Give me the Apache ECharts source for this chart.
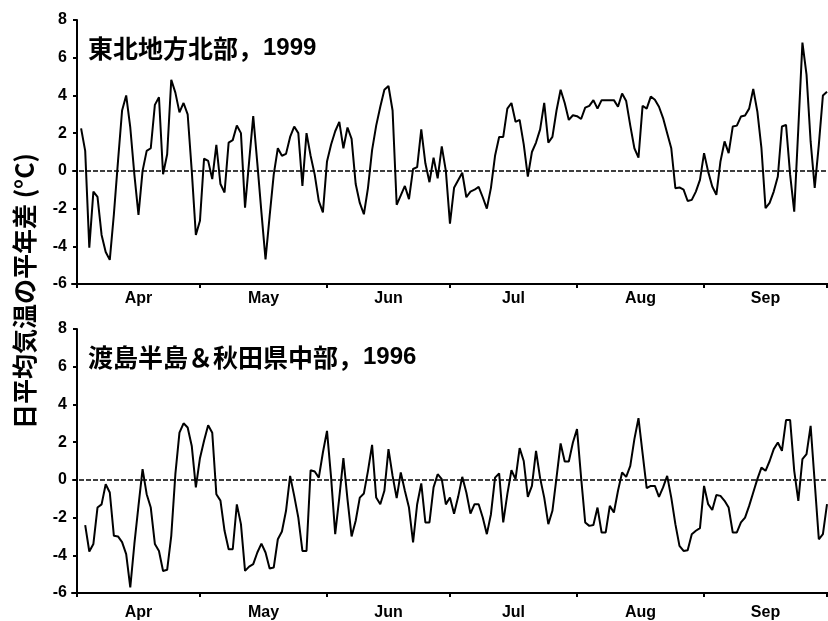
<!DOCTYPE html>
<html>
<head>
<meta charset="utf-8">
<script src="https://cdn.jsdelivr.net/npm/echarts@6/dist/echarts.min.js"></script>
<style>
  html, body { margin: 0; padding: 0; background: #fff; }
  #chart { width: 828px; height: 621px; }
</style>
</head>
<body>
<div id="chart"></div>
<script>
// Month names shown under each panel and the first day of each month
// (days counted from 1 April; 183 = 1 October).
const monthNames = ['Apr', 'May', 'Jun', 'Jul', 'Aug', 'Sep'];
const monthStarts = [0, 30, 61, 91, 122, 153, 183];

// Panel titles and the shared y-axis caption.
const panelTitles = ['東北地方北部，', '渡島半島＆秋田県中部，'];
const panelYears = ['1999', '1996'];
const yCaption = '日平均気温の平年差 (°C)';

// Daily mean temperature anomaly (°C), northern Tohoku 1999, from day 1.
const north1999Start = 1;
const north1999 = [
  2.25, 1.06, -4.07, -1.1, -1.38, -3.4, -4.3, -4.72, -2.3, 0.5,
  3.2, 4.0, 2.3, -0.2, -2.33, 0.0, 1.06, 1.2, 3.5, 3.9,
  -0.18, 0.88, 4.83, 4.15, 3.1, 3.6, 3.0, 0.0, -3.4, -2.65,
  0.65, 0.53, -0.44, 1.38, -0.7, -1.15, 1.5, 1.63, 2.4, 2.0,
  -1.95, 0.5, 2.9, 0.4, -2.2, -4.7, -2.4, -0.2, 1.2, 0.8,
  0.9, 1.8, 2.35, 2.0, -0.8, 2.0, 0.8, -0.2, -1.6, -2.2,
  0.5, 1.4, 2.1, 2.6, 1.2, 2.3, 1.7, -0.7, -1.7, -2.3,
  -0.9, 1.1, 2.4, 3.4, 4.3, 4.5, 3.2, -1.8, -1.3, -0.8,
  -1.5, 0.1, 0.2, 2.2, 0.4, -0.6, 0.7, -0.4, 1.3, 0.0,
  -2.8, -0.9, -0.5, -0.1, -1.4, -1.1, -1.0, -0.85, -1.4, -2.0,
  -0.9, 0.8, 1.8, 1.8, 3.3, 3.6, 2.6, 2.7, 1.4, -0.3,
  1.0, 1.5, 2.2, 3.6, 1.5, 1.8, 3.2, 4.3, 3.6, 2.7,
  2.95, 2.9, 2.75, 3.35, 3.45, 3.75, 3.3, 3.75, 3.75, 3.75,
  3.75, 3.4, 4.1, 3.7, 2.4, 1.2, 0.7, 3.45, 3.3, 3.94,
  3.77, 3.4, 2.8, 2.0, 1.2, -0.92, -0.88, -1.0, -1.6, -1.54,
  -1.1, -0.48, 0.94, -0.04, -0.83, -1.27, 0.5, 1.56, 0.94, 2.35,
  2.4, 2.88, 2.94, 3.3, 4.35, 3.15, 1.2, -1.98, -1.7, -1.1,
  -0.3, 2.35, 2.44, -0.2, -2.16, 2.26, 6.8, 5.1, 1.56, -0.9,
  1.38, 4.0, 4.2
];

// Daily mean temperature anomaly (°C), Oshima Peninsula & central Akita 1996, from day 2.
const oshima1996Start = 2;
const oshima1996 = [
  -2.4, -3.8, -3.4, -1.47, -1.3, -0.23, -0.67, -2.97, -3.0, -3.3,
  -3.94, -5.7, -3.4, -1.38, 0.57, -0.76, -1.47, -3.4, -3.77, -4.83,
  -4.77, -2.97, 0.3, 2.5, 3.0, 2.78, 1.8, -0.4, 1.15, 2.07,
  2.9, 2.5, -0.76, -1.1, -2.7, -3.68, -3.68, -1.3, -2.35, -4.83,
  -4.6, -4.47, -3.85, -3.38, -3.85, -4.7, -4.65, -3.15, -2.74, -1.64,
  0.21, -0.85, -2.0, -3.77, -3.77, 0.51, 0.44, 0.12, 1.45, 2.6,
  0.12, -2.88, -0.94, 1.15, -1.03, -3.0, -2.17, -0.94, -0.72, 0.48,
  1.86, -0.94, -1.29, -0.58, 1.63, 0.21, -0.97, 0.39, -0.58, -1.47,
  -3.32, -1.29, -0.19, -2.26, -2.26, -0.4, 0.3, 0.04, -1.3, -0.94,
  -1.8, -0.9, 0.16, -0.67, -1.79, -1.29, -1.29, -2.0, -2.88, -1.82,
  0.12, 0.34, -2.26, -0.76, 0.51, 0.04, 1.68, 1.0, -0.9, -0.32,
  1.54, 0.09, -0.94, -2.35, -1.64, 0.12, 1.93, 0.97, 0.97, 1.98,
  2.69, 0.12, -2.26, -2.44, -2.39, -1.47, -2.79, -2.79, -1.38, -1.73,
  -0.58, 0.39, 0.16, 0.74, 2.16, 3.27, 1.4, -0.44, -0.32, -0.32,
  -0.9, -0.4, 0.21, -0.94, -2.35, -3.5, -3.77, -3.73, -2.88, -2.7,
  -2.56, -0.32, -1.29, -1.6, -0.8, -0.85, -1.11, -1.47, -2.79, -2.79,
  -2.26, -2.0, -1.38, -0.67, 0.04, 0.65, 0.48, 1.0, 1.63, 1.98,
  1.54, 3.17, 3.17, 0.48, -1.11, 1.1, 1.36, 2.86, -0.14, -3.15,
  -2.88, -1.29
];

// Pair each value with its day position on the shared month axis.
function toPoints(values, startDay) {
  return values.map((v, i) => [startDay + i, v]);
}

// Label each month halfway between its first day and the next month's.
const monthMids = monthNames.map((_, i) => (monthStarts[i] + monthStarts[i + 1]) / 2);

const AXIS_FONT = 'Liberation Sans';
const CJK_FONT = '"Noto Sans CJK JP"';

function makeXAxis(gridIndex, labelMargin) {
  return {
    type: 'value',
    gridIndex: gridIndex,
    min: -1.22,
    max: 183.24,
    axisLine: { onZero: false, lineStyle: { color: '#000', width: 2 } },
    axisTick: {
      customValues: monthStarts,
      length: 4,
      lineStyle: { color: '#000', width: 2 }
    },
    axisLabel: {
      customValues: monthMids,
      formatter: (v) => monthNames[monthMids.indexOf(v)],
      color: '#000',
      fontFamily: AXIS_FONT,
      fontWeight: 'bold',
      fontSize: 16,
      margin: labelMargin
    },
    splitLine: { show: false }
  };
}

function makeYAxis(gridIndex) {
  return {
    type: 'value',
    gridIndex: gridIndex,
    min: -6,
    max: 8,
    interval: 2,
    axisLine: { show: true, lineStyle: { color: '#000', width: 2 } },
    axisTick: { show: true, length: 4, lineStyle: { color: '#000', width: 2 } },
    axisLabel: {
      color: '#000',
      fontFamily: AXIS_FONT,
      fontWeight: 'bold',
      fontSize: 16,
      margin: 5
    },
    splitLine: { show: false }
  };
}

function makeSeries(index, points) {
  return {
    type: 'line',
    xAxisIndex: index,
    yAxisIndex: index,
    data: points,
    showSymbol: false,
    symbol: 'none',
    smooth: false,
    lineStyle: { color: '#000', width: 2 },
    animation: false,
    markLine: {
      silent: true,
      symbol: 'none',
      label: { show: false },
      lineStyle: { color: '#000', width: 1.6, type: [5, 2] },
      data: [{ yAxis: 0 }]
    }
  };
}

function titleText(i, y) {
  return {
    type: 'text',
    x: 88,
    y: y,
    style: {
      text: '{t|' + panelTitles[i] + '}{n|' + panelYears[i] + '}',
      verticalAlign: 'middle',
      rich: {
        t: { fontFamily: CJK_FONT, fontWeight: 'bold', fontSize: 25, fill: '#000' },
        n: { fontFamily: AXIS_FONT, fontWeight: 'bold', fontSize: 24, fill: '#000' }
      }
    }
  };
}

const chart = echarts.init(document.getElementById('chart'), null, { renderer: 'canvas' });
chart.setOption({
  backgroundColor: '#fff',
  animation: false,
  grid: [
    { left: 72, top: 20, width: 756, height: 264, outerBoundsMode: 'none', containLabel: false },
    { left: 72, top: 329, width: 756, height: 264, outerBoundsMode: 'none', containLabel: false }
  ],
  xAxis: [makeXAxis(0, 7), makeXAxis(1, 12)],
  yAxis: [makeYAxis(0), makeYAxis(1)],
  series: [
    makeSeries(0, toPoints(north1999, north1999Start)),
    makeSeries(1, toPoints(oshima1996, oshima1996Start))
  ],
  graphic: [
    titleText(0, 48),
    titleText(1, 357),
    {
      type: 'text',
      x: 24,
      y: 291,
      rotation: Math.PI / 2,
      style: {
        text: yCaption,
        align: 'center',
        verticalAlign: 'middle',
        fontFamily: CJK_FONT,
        fontWeight: 'bold',
        fontSize: 25,
        fill: '#000'
      }
    }
  ]
});
</script>
</body>
</html>
